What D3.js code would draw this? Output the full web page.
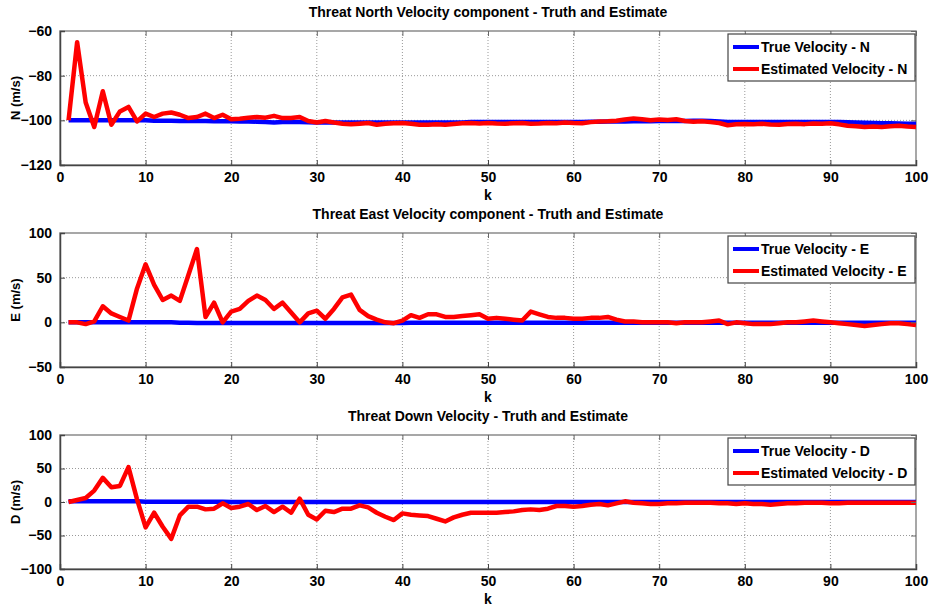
<!DOCTYPE html>
<html lang="en">
  <head>
    <meta charset="UTF-8" />
    <title>Threat velocity</title>
    <script src="https://cdn.jsdelivr.net/npm/d3@7"></script>
    <style>
      body { margin: 0; background: #fff; }
      text { font-family: "Liberation Sans", Arial, sans-serif; font-weight: bold; }
    </style>
  </head>
  <body>
    <svg id="svg" width="930" height="610"></svg>
    <script>
      const k = d3.range(1, 101);

      const trueN = [
        -100, -100, -100, -100, -100, -100, -100, -100, -100, -100,
        -100.2, -100.2, -100.2, -100.3, -100.3, -100.3, -100.3, -100.4, -100.4, -100.4,
        -100.5, -100.5, -100.6, -100.8, -101, -100.8, -100.7, -100.7, -100.9, -101,
        -101, -101, -101, -101, -101, -101, -101, -101, -101, -101,
        -101, -101, -101, -101, -101, -101, -101, -100.8, -100.8, -100.7,
        -100.8, -100.8, -100.8, -100.8, -100.8, -100.8, -100.8, -100.8, -100.8, -100.8,
        -100.8, -100.6, -100.6, -100.5, -100.5, -100.5, -100.4, -100.4, -100.4, -100.3,
        -100.3, -100.3, -100.3, -100.2, -100.2, -100.3, -100.5, -100.7, -100.8, -100.8,
        -100.8, -100.8, -100.8, -100.8, -100.8, -100.8, -100.7, -100.7, -100.7, -100.7,
        -100.8, -100.9, -101, -101.1, -101.2, -101.3, -101.3, -101.4, -101.5, -101.5
      ];
      const estN = [
        -100, -65, -92, -103, -87, -102, -96, -94, -100.5, -97,
        -98.5, -97, -96.5, -97.5, -99, -98.5, -97, -99, -97.5, -99.5,
        -99.3, -98.8, -98.5, -98.8, -98, -99, -99, -98.5, -100.3, -101,
        -100.3, -101, -101.5, -101.8, -101.5, -101.2, -102, -101.5, -101.3, -101.2,
        -101.5, -102, -102, -101.8, -102, -101.6, -101.3, -101.2, -101.4, -101.2,
        -101.4, -101.5, -101.3, -101.2, -101.5, -101.4, -101.2, -101.3, -101, -101.2,
        -101.3, -100.8, -100.5, -100.4, -100.2, -99.6, -99.2, -99.5, -100, -99.6,
        -99.8, -99.5, -100.3, -100.6, -100.4, -100.8, -101.2, -102.2, -101.8, -101.6,
        -101.8, -101.5, -101.9, -102, -101.6, -101.5, -101.7, -101.4, -101.5, -101.3,
        -101.8, -102.4, -102.6, -103, -102.8, -103, -102.7, -102.4, -102.8, -103
      ];

      const trueE = [
        0, 0, 0, 0, 0, 0, 0, 0, 0, 0,
        0, 0, 0, -0.5, -0.5, -0.8, -0.8, -0.8, -0.8, -0.8,
        -0.8, -0.8, -0.8, -0.8, -0.8, -0.8, -0.8, -0.8, -0.8, -0.8,
        -0.8, -0.8, -0.8, -0.8, -0.8, -0.8, -0.8, -0.8, -0.8, -0.8,
        -0.6, -0.6, -0.6, -0.6, -0.6, -0.6, -0.6, -0.6, -0.6, -0.6,
        -0.6, -0.6, -0.6, -0.6, -0.6, -0.6, -0.6, -0.6, -0.6, -0.6,
        -0.5, -0.5, -0.5, -0.5, -0.5, -0.5, -0.5, -0.5, -0.5, -0.5,
        -0.5, -0.5, -0.5, -0.5, -0.5, -0.5, -0.5, -0.5, -0.5, -0.5,
        -0.5, -0.5, -0.5, -0.5, -0.5, -0.5, -0.5, -0.5, -0.5, -0.5,
        -0.5, -0.5, -0.5, -0.5, -0.5, -0.5, -0.5, -0.5, -0.5, -0.5
      ];
      const estE = [
        0, 0, -2, 1, 18, 10, 6, 2, 38, 65,
        42, 25, 30, 24, 53, 82, 6, 22, 0, 12,
        15, 24, 30, 25, 15, 22, 11, 0, 10, 13,
        4, 15, 28, 31, 14, 7, 3, 0, -1, 2,
        8, 5, 9, 9, 6, 6, 7, 8, 9, 4,
        5, 4, 3, 2, 12, 9, 6, 5, 5, 4,
        4, 5, 5, 6, 3, 1, 1, 0, 0, 0,
        0, -1, 0, 0, 0, 1, 2, -2, 0, -1,
        -2, -2, -2, -1, 0, 0, 1, 2, 1, 0,
        -1, -2, -3, -4, -3, -2, -1, -1, -2, -3
      ];

      const trueD = [
        1, 1, 1, 1, 1, 1, 1, 1, 1, 0.5,
        0.5, 0.5, 0.5, 0.5, 0.5, 0.5, 0.5, 0.5, 0.5, 0,
        0, 0, 0, 0, 0, 0, 0, 0, 0, 0,
        0, 0, 0, 0, 0, 0, 0, 0, 0, 0,
        0, 0, 0, 0, 0, 0, 0, 0, 0, 0,
        0, 0, 0, 0, 0, 0, 0, 0, 0, 0,
        0, 0, 0, 0, 0, 0, 0, 0, 0, 0,
        0, 0, 0, 0, 0, 0, 0, 0, 0, 0,
        0, 0, 0, 0, 0, 0, 0, 0, 0, 0,
        0, 0, 0, 0, 0, 0, 0, 0, 0, 0
      ];
      const estD = [
        0, 3, 6, 17, 36, 22, 24, 52, 4, -38,
        -16, -37, -55, -20, -7, -7, -11, -10, -2, -9,
        -7, -3, -12, -6, -15, -7, -16, 5, -19, -26,
        -13, -15, -10, -10, -5, -8, -16, -22, -27, -17,
        -19, -20, -21, -25, -29, -23, -19, -16, -16, -16,
        -16, -15, -14, -12, -11, -12, -10, -6, -6, -7,
        -6, -4, -3, -5, -2, 1, -1, -2, -3, -3,
        -2, -2, -1, -1, -1, -1, -2, -2, -3, -2,
        -3, -3, -4, -3, -2, -2, -1, -1, -1, -2,
        -2, -1, -1, -1, -1, -1, -1, -1, -1, -1
      ];

      const titles = [
        "Threat North Velocity component - Truth and Estimate",
        "Threat East Velocity component - Truth and Estimate",
        "Threat Down Velocity - Truth and Estimate"
      ];
      const yLabels = ["N (m/s)", "E (m/s)", "D (m/s)"];
      const comps = ["N", "E", "D"];
      const yDomains = [[-120, -60], [-50, 100], [-100, 100]];
      const yTicks = [
        [-120, -100, -80, -60],
        [-50, 0, 50, 100],
        [-100, -50, 0, 50, 100]
      ];
      const xTicks = d3.range(0, 101, 10);

      const panels = [
        { truth: trueN, est: estN, top: 31 },
        { truth: trueE, est: estE, top: 233 },
        { truth: trueD, est: estD, top: 435 }
      ];

      const left = 60, right = 916, plotH = 134;
      const svg = d3.select("#svg");

      const x = d3.scaleLinear().domain([0, 100]).range([left, right]);

      panels.forEach((p, i) => {
        const y = d3.scaleLinear().domain(yDomains[i]).range([p.top + plotH, p.top]);
        const g = svg.append("g");

        // dotted grid
        g.selectAll(".gx")
          .data(xTicks.slice(1, -1))
          .enter()
          .append("line")
          .attr("x1", d => x(d)).attr("x2", d => x(d))
          .attr("y1", p.top).attr("y2", p.top + plotH)
          .attr("stroke", "#999").attr("stroke-width", 1)
          .attr("stroke-dasharray", "1,2");
        g.selectAll(".gy")
          .data(yTicks[i].slice(1, -1))
          .enter()
          .append("line")
          .attr("x1", left).attr("x2", right)
          .attr("y1", d => y(d)).attr("y2", d => y(d))
          .attr("stroke", "#999").attr("stroke-width", 1)
          .attr("stroke-dasharray", "1,2");

        // frame top/right
        g.append("rect")
          .attr("x", left).attr("y", p.top)
          .attr("width", right - left).attr("height", plotH)
          .attr("fill", "none").attr("stroke", "#8a8a8a").attr("stroke-width", 1.5);

        const line = d3.line().x((d, j) => x(k[j])).y(d => y(d));

        g.append("path")
          .attr("d", line(p.truth))
          .attr("fill", "none").attr("stroke", "#0000ff").attr("stroke-width", 4.5);
        g.append("path")
          .attr("d", line(p.est))
          .attr("fill", "none").attr("stroke", "#ff0000").attr("stroke-width", 4.5)
          .attr("stroke-linejoin", "round");

        // axes with inward ticks (mirrored on top/right like matlab)
        const xAxis = d3.axisBottom(x).tickValues(xTicks).tickSize(-5).tickPadding(7).tickFormat(d3.format("d"));
        const yAxis = d3.axisLeft(y).tickValues(yTicks[i]).tickSize(-5).tickPadding(8).tickFormat(d3.format("d"));
        const xTop = d3.axisTop(x).tickValues(xTicks).tickSize(-5).tickFormat("");
        const yRight = d3.axisRight(y).tickValues(yTicks[i]).tickSize(-5).tickFormat("");

        g.append("g").attr("transform", `translate(0,${p.top})`).call(xTop)
          .call(a => a.select(".domain").remove())
          .selectAll(".tick line").attr("stroke", "#666");
        g.append("g").attr("transform", `translate(${right},0)`).call(yRight)
          .call(a => a.select(".domain").remove())
          .selectAll(".tick line").attr("stroke", "#666");

        const gx = g.append("g").attr("transform", `translate(0,${p.top + plotH})`).call(xAxis);
        const gy = g.append("g").attr("transform", `translate(${left},0)`).call(yAxis);
        [gx, gy].forEach(a => {
          a.select(".domain").attr("stroke", "#444").attr("stroke-width", 1.5);
          a.selectAll(".tick line").attr("stroke", "#444");
          a.selectAll("text").attr("fill", "#000").style("font-size", "14px")
            .style("font-family", "'Liberation Sans', Arial, sans-serif").style("font-weight", "bold");
        });

        // labels
        svg.append("text")
          .attr("x", 488).attr("y", p.top - 14)
          .attr("text-anchor", "middle").style("font-size", "14px")
          .style("font-family", "'Liberation Sans Narrow', 'Liberation Sans', sans-serif")
          .text(titles[i]);
        svg.append("text")
          .attr("x", (left + right) / 2).attr("y", p.top + plotH + 35)
          .attr("text-anchor", "middle").style("font-size", "14px")
          .text("k");
        svg.append("text")
          .attr("transform", `translate(20,${p.top + plotH / 2}) rotate(-90)`)
          .attr("text-anchor", "middle").style("font-size", "13px")
          .text(yLabels[i]);

        // legend
        const lg = svg.append("g").attr("transform", `translate(728,${p.top + 3})`);
        lg.append("rect")
          .attr("width", 187).attr("height", 47)
          .attr("fill", "#fff").attr("stroke", "#444").attr("stroke-width", 1.2);
        [["True Velocity - ", "#0000ff"], ["Estimated Velocity - ", "#ff0000"]].forEach((e, j) => {
          const yy = 13 + j * 22;
          lg.append("line")
            .attr("x1", 5).attr("x2", 31).attr("y1", yy).attr("y2", yy)
            .attr("stroke", e[1]).attr("stroke-width", 4);
          lg.append("text")
            .attr("x", 33).attr("y", yy + 5).style("font-size", "14px")
            .text(e[0] + comps[i]);
        });
      });
    </script>
  </body>
</html>
